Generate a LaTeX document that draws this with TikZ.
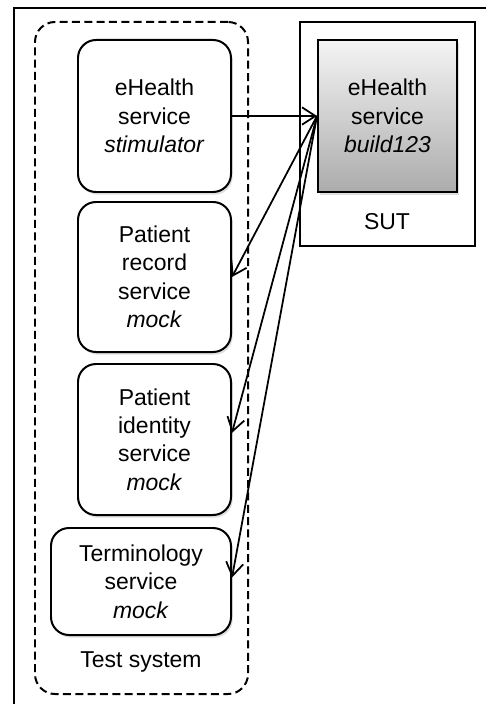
\documentclass[tikz,border=0pt]{standalone}
\usepackage{fontspec}
\setmainfont{Liberation Sans}
\usetikzlibrary{arrows.meta,shadows}
\definecolor{buildtop}{RGB}{244, 244, 244}
\definecolor{buildbottom}{RGB}{172, 172, 172}

\tikzset{
  service/.style={draw, line width=1.7pt, rounded corners=0.54cm, fill=white, align=center, inner sep=0pt,
                  drop shadow={shadow xshift=0.05cm, shadow yshift=-0.08cm, opacity=0.25}},
  frame/.style={draw, line width=1.7pt, inner sep=0pt},
  call/.style={-{Straight Barb[length=0.4cm, width=0.52cm]}, line width=1.5pt},
}

\begin{document}
\begin{tikzpicture}[x=0.03cm, y=-0.03cm, font=\fontsize{19.6}{24.3}\selectfont]
  \useasboundingbox (0,0) rectangle (486,704);
  \clip (0,0) rectangle (486,704);
  % outer frame, cut by the page edge
  \draw[line width=1.7pt] (14,8) rectangle (530,760);

  % containers
  \node[frame, dash pattern=on 0.24cm off 0.13cm, rounded corners=0.6cm,
        minimum width=6.39cm, minimum height=20.16cm] (testsys) at (141.5,358) {};
  \node[frame, minimum width=5.25cm, minimum height=6.72cm] (sut)  at (387.5,134) {};
  \node (testlabel) at (141,662) {Test system};
  \node (sutlabel)  at (387,222) {SUT};

  % services
  \node[service, minimum width=4.59cm, minimum height=4.56cm] (stimulator) at (154.5,116)
       {eHealth\\service\\\textit{stimulator}};
  \node[service, minimum width=4.59cm, minimum height=4.50cm] (record)     at (154.5,277)
       {Patient\\record\\service\\\textit{mock}};
  \node[service, minimum width=4.59cm, minimum height=4.53cm] (identity)   at (154.5,439.5)
       {Patient\\identity\\service\\\textit{mock}};
  \node[service, minimum width=5.40cm, minimum height=3.21cm] (terminology) at (141,581.5)
       {Terminology\\service\\\textit{mock}};
  \node[service, rounded corners=0pt, top color=buildtop, bottom color=buildbottom,
        minimum width=4.17cm, minimum height=4.56cm] (build) at (387.5,116)
       {eHealth\\service\\\textit{build123}};

  % calls
  \draw[call] (stimulator.east) -- (build.west);
  \draw[call] (build.west) -- (record.east);
  \draw[call] (build.west) -- ([yshift=0.2cm]identity.east);
  \draw[call] (build.west) -- ([yshift=0.12cm]terminology.east);
\end{tikzpicture}
\end{document}
